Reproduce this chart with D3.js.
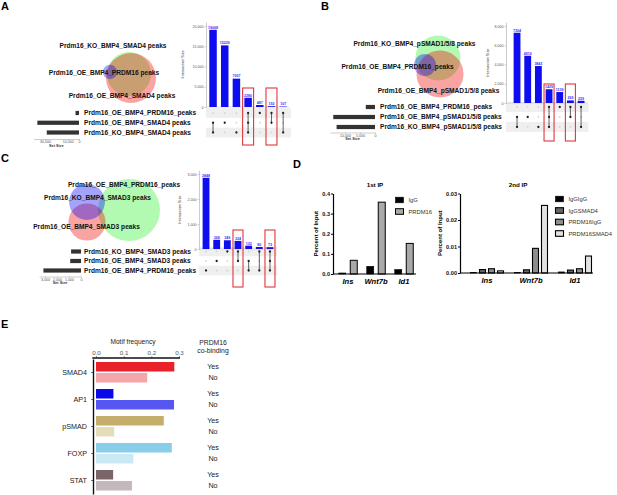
<!DOCTYPE html>
<html>
<head>
<meta charset="utf-8">
<script src="https://cdn.jsdelivr.net/npm/d3@7"></script>
<style>
  body { margin: 0; background: #fff; }
  svg { display: block; font-family: 'Liberation Sans', Arial, Helvetica, sans-serif; }
</style>
</head>
<body>
<svg id="fig" width="617" height="495"></svg>
<script>
// ---------- panel A : SMAD4 ----------
const upsetASets = ['Prdm16_OE_BMP4_PRDM16_peaks', 'Prdm16_OE_BMP4_SMAD4 peaks', 'Prdm16_KO_BMP4_SMAD4 peaks']
const upsetASetSizes = [3066, 36760, 28462]
const upsetAValues = [19068, 15220, 7007, 2280, 487, 192, 107]
const upsetAMembers = [[1, 2], [1], [2], [0, 1, 2], [0], [0, 1], [0, 2]]
const upsetAHighlight = [3, 5]
const upsetAYTicks = [0, 5000, 10000, 15000, 20000]
const upsetASetTicks = [30000, 10000, 0]
const vennALabels = ['Prdm16_KO_BMP4_SMAD4 peaks', 'Prdm16_OE_BMP4_PRDM16 peaks', 'Prdm16_OE_BMP4_SMAD4 peaks']

// ---------- panel B : pSMAD1/5/8 ----------
const upsetBSets = ['Prdm16_OE_BMP4_PRDM16_peaks', 'Prdm16_OE_BMP4_pSMAD1/5/8 peaks', 'Prdm16_KO_BMP4_pSMAD1/5/8 peaks']
const upsetBSetSizes = [3066, 13912, 12805]
const upsetBValues = [7304, 4910, 3843, 1429, 1139, 269, 229]
const upsetBMembers = [[1, 2], [1], [2], [0, 1, 2], [0], [0, 1], [0, 2]]
const upsetBHighlight = [3, 5]
const upsetBYTicks = [0, 2000, 4000, 6000, 8000]
const upsetBSetTicks = [10000, 5000, 0]
const vennBLabels = ['Prdm16_KO_BMP4_pSMAD1/5/8 peaks', 'Prdm16_OE_BMP4_PRDM16_peaks', 'Prdm16_OE_BMP4_pSMAD1/5/8 peaks']

// ---------- panel C : SMAD3 ----------
const upsetCSets = ['Prdm16_KO_BMP4_SMAD3 peaks', 'Prdm16_OE_BMP4_SMAD3 peaks', 'Prdm16_OE_BMP4_PRDM16_peaks']
const upsetCSetSizes = [826, 897, 3133]
const upsetCValues = [2848, 368, 349, 324, 132, 80, 73]
const upsetCMembers = [[2], [1], [0], [0, 1], [1, 2], [0, 2], [0, 1, 2]]
const upsetCHighlight = [3, 6]
const upsetCYTicks = [0, 1000, 2000, 3000]
const upsetCSetTicks = [3000, 2000, 1000, 0]
const vennCLabels = ['Prdm16_OE_BMP4_PRDM16_peaks', 'Prdm16_KO_BMP4_SMAD3 peaks', 'Prdm16_OE_BMP4_SMAD3 peaks']

// ---------- panel D : ChIP / re-ChIP ----------
const chipGenes = ['Ins', 'Wnt7b', 'Id1']
const firstIpSeries = ['IgG', 'PRDM16']
const firstIpIgG = [0.005, 0.038, 0.022]
const firstIpPRDM16 = [0.068, 0.357, 0.152]
const firstIpTicks = [0, 0.1, 0.2, 0.3, 0.4]
const secondIpSeries = ['IgGIgG', 'IgGSMAD4', 'PRDM16IgG', 'PRDM16SMAD4']
const secondIpIgGIgG = [0.0002, 0.0002, 0.0004]
const secondIpIgGSMAD4 = [0.0013, 0.0012, 0.0011]
const secondIpPRDM16IgG = [0.0016, 0.0093, 0.0016]
const secondIpPRDM16SMAD4 = [0.0008, 0.0255, 0.0064]
const secondIpTicks = [0, 0.01, 0.02, 0.03]

// ---------- panel E : motif frequency ----------
const motifCategories = ['SMAD4', 'AP1', 'pSMAD', 'FOXP', 'STAT']
const motifYes = [0.283, 0.063, 0.245, 0.274, 0.062]
const motifNo = [0.185, 0.282, 0.066, 0.135, 0.13]
const motifYesColors = ['#e8212b', '#0a0ae8', '#c5ad6b', '#88cdea', '#7b6569']
const motifNoColors = ['#f5a6aa', '#5656f2', '#e6dcba', '#cbe8f5', '#c4b8bc']
const motifTicks = [0, 0.1, 0.2, 0.3]

const VENN_GREEN = 'rgba(0, 235, 0, 0.3)'
const VENN_RED = 'rgba(240, 0, 0, 0.36)'
const VENN_BLUE = 'rgba(0, 0, 245, 0.36)'

const svg = d3.select('#fig')

// panel letters
svg.selectAll('text.panel-letter')
  .data([['A', 1, 9.5], ['B', 321, 9.5], ['C', 1, 162], ['D', 293, 168], ['E', 1, 328]])
  .join('text')
  .attr('class', 'panel-letter')
  .attr('x', d => d[1]).attr('y', d => d[2])
  .attr('font-size', 11).attr('font-weight', 'bold')
  .text(d => d[0])

function drawVenn (root, circles, labels) {
  const g = root.append('g')
  g.selectAll('circle')
    .data(circles)
    .join('circle')
    .attr('cx', d => d.cx).attr('cy', d => d.cy).attr('r', d => d.r)
    .attr('fill', d => d.color)
  g.selectAll('text')
    .data(labels)
    .join('text')
    .attr('x', d => d.x).attr('y', d => d.y)
    .attr('text-anchor', 'middle')
    .attr('font-size', 6.6).attr('font-weight', 'bold').attr('fill', '#111')
    .text(d => d.text)
}

function drawUpset (root, data, layout) {
  const g = root.append('g')
  const n = data.values.length
  const x = d3.scalePoint().domain(d3.range(n)).range(layout.xRange).padding(0.5)
  const step = x.step()
  const y = d3.scaleLinear().domain([0, layout.yMax]).range([layout.baseY, layout.topY])
  const row = d3.scalePoint().domain(d3.range(data.sets.length)).range(layout.rowRange)
  const rowStep = row.step()
  const setX = d3.scaleLinear().domain([0, layout.setMax])
    .range([layout.setRight, layout.setRight - layout.setWidth])

  // matrix stripes
  g.selectAll('rect.stripe')
    .data([0, 2])
    .join('rect')
    .attr('class', 'stripe')
    .attr('x', layout.axisX)
    .attr('width', layout.xRange[1] + 2 - layout.axisX)
    .attr('y', i => row(i) - rowStep / 2)
    .attr('height', rowStep)
    .attr('fill', '#efefef')

  // intersection axis
  const yAxis = g.append('g')
    .attr('transform', `translate(${layout.axisX},0)`)
    .call(d3.axisLeft(y).tickValues(data.yTicks).tickSize(1.5).tickSizeOuter(0).tickPadding(1))
  yAxis.select('.domain').attr('stroke', '#999').attr('stroke-width', 0.5)
  yAxis.selectAll('.tick line').attr('stroke', '#999').attr('stroke-width', 0.5)
  yAxis.selectAll('.tick text').attr('font-size', 3.6).attr('fill', '#555').attr('font-family', null)

  g.append('line')
    .attr('x1', layout.axisX).attr('x2', layout.xRange[1])
    .attr('y1', layout.baseY).attr('y2', layout.baseY)
    .attr('stroke', '#bbb').attr('stroke-width', 0.5)

  g.append('text')
    .attr('transform', `translate(${layout.axisX - layout.titleOffset},${(layout.baseY + layout.topY) / 2}) rotate(-90)`)
    .attr('text-anchor', 'middle')
    .attr('font-size', 3.8).attr('fill', '#333')
    .text('Intersection Size')

  // bars
  const bw = step * 0.64
  g.selectAll('rect.bar')
    .data(data.values)
    .join('rect')
    .attr('class', 'bar')
    .attr('x', (d, i) => x(i) - bw / 2)
    .attr('width', bw)
    .attr('y', d => y(d))
    .attr('height', d => y(0) - y(d))
    .attr('fill', '#0d0df0')

  g.selectAll('text.value')
    .data(data.values)
    .join('text')
    .attr('class', 'value')
    .attr('x', (d, i) => x(i))
    .attr('y', d => y(d) - 1.2)
    .attr('text-anchor', 'middle')
    .attr('font-size', 3.6).attr('font-weight', 'bold').attr('fill', '#3333ff')
    .text(d => d)

  // matrix dots
  const cells = []
  data.members.forEach((m, i) => {
    data.sets.forEach((s, r) => cells.push({ col: i, row: r, on: m.includes(r) }))
  })
  g.selectAll('circle.dot')
    .data(cells)
    .join('circle')
    .attr('class', 'dot')
    .attr('cx', d => x(d.col))
    .attr('cy', d => row(d.row))
    .attr('r', d => d.on ? 1.15 : 0.9)
    .attr('fill', d => d.on ? '#222' : '#d6d6d6')

  g.selectAll('line.link')
    .data(data.members.map((m, i) => ({ col: i, lo: d3.min(m), hi: d3.max(m) })).filter(d => d.hi > d.lo))
    .join('line')
    .attr('class', 'link')
    .attr('x1', d => x(d.col)).attr('x2', d => x(d.col))
    .attr('y1', d => row(d.lo)).attr('y2', d => row(d.hi))
    .attr('stroke', '#222').attr('stroke-width', 0.7)

  // highlight boxes
  g.selectAll('rect.hl')
    .data(data.highlight)
    .join('rect')
    .attr('class', 'hl')
    .attr('x', i => x(i) - step * 0.47)
    .attr('width', step * 0.94)
    .attr('y', layout.baseY - 19)
    .attr('height', 57)
    .attr('fill', 'none')
    .attr('stroke', '#e0363c').attr('stroke-width', 1.1)

  // set labels
  g.selectAll('text.set')
    .data(data.sets)
    .join('text')
    .attr('class', 'set')
    .attr('x', layout.labelX)
    .attr('y', (d, i) => row(i) + 2.3)
    .attr('font-size', 6.6).attr('font-weight', 'bold').attr('fill', '#111')
    .text(d => d)

  // set size bars
  g.selectAll('rect.setbar')
    .data(data.setSizes)
    .join('rect')
    .attr('class', 'setbar')
    .attr('x', d => setX(d))
    .attr('width', d => setX(0) - setX(d))
    .attr('y', (d, i) => row(i) - 2.1)
    .attr('height', 4.2)
    .attr('fill', '#333')

  const sAxis = g.append('g')
    .attr('transform', `translate(0,${layout.setAxisY})`)
    .call(d3.axisBottom(setX).tickValues(data.setTicks).tickSize(1.2).tickSizeOuter(0).tickPadding(0.5))
  sAxis.select('.domain').attr('stroke', '#999').attr('stroke-width', 0.5)
  sAxis.selectAll('.tick line').attr('stroke', '#999').attr('stroke-width', 0.5)
  sAxis.selectAll('.tick text').attr('font-size', 3.6).attr('fill', '#555').attr('font-family', null)
  g.append('text')
    .attr('x', (setX.range()[0] + setX.range()[1]) / 2)
    .attr('y', layout.setAxisY + 7.6)
    .attr('text-anchor', 'middle')
    .attr('font-size', 3.8).attr('font-weight', 'bold').attr('fill', '#333')
    .text('Set Size')
}

// ---------- panel A ----------
const rA = d3.scaleSqrt().domain([0, d3.max(upsetASetSizes)]).range([0, 25])
drawVenn(svg, [
  { cx: 129, cy: 74, r: rA(upsetASetSizes[2]), color: VENN_GREEN },
  { cx: 131, cy: 78, r: rA(upsetASetSizes[1]), color: VENN_RED },
  { cx: 110, cy: 72, r: rA(upsetASetSizes[0]), color: VENN_BLUE }
], [
  { x: 113, y: 47.5, text: vennALabels[0] },
  { x: 104, y: 74.5, text: vennALabels[1] },
  { x: 122, y: 97.5, text: vennALabels[2] }
])
drawUpset(svg, {
  sets: upsetASets, setSizes: upsetASetSizes, values: upsetAValues, members: upsetAMembers,
  highlight: upsetAHighlight, yTicks: upsetAYTicks, setTicks: upsetASetTicks
}, {
  xRange: [207.2, 289], axisX: 206, yMax: 21000, baseY: 107, topY: 22,
  rowRange: [113, 132.5], labelX: 84, titleOffset: 22,
  setMax: 40000, setRight: 79, setWidth: 45.3, setAxisY: 139
})

// ---------- panel B ----------
const rB = d3.scaleSqrt().domain([0, d3.max(upsetBSetSizes)]).range([0, 23.5])
drawVenn(svg, [
  { cx: 438, cy: 58, r: rB(upsetBSetSizes[2]), color: VENN_GREEN },
  { cx: 440, cy: 74, r: rB(upsetBSetSizes[1]), color: VENN_RED },
  { cx: 425, cy: 65, r: rB(upsetBSetSizes[0]), color: VENN_BLUE }
], [
  { x: 414.5, y: 45.5, text: vennBLabels[0] },
  { x: 397.5, y: 68.5, text: vennBLabels[1] },
  { x: 438.5, y: 92.5, text: vennBLabels[2] }
])
drawUpset(svg, {
  sets: upsetBSets, setSizes: upsetBSetSizes, values: upsetBValues, members: upsetBMembers,
  highlight: upsetBHighlight, yTicks: upsetBYTicks, setTicks: upsetBSetTicks
}, {
  xRange: [511.7, 586.4], axisX: 506, yMax: 8400, baseY: 103, topY: 22.2,
  rowRange: [107, 127], labelX: 380, titleOffset: 17,
  setMax: 15000, setRight: 375, setWidth: 45, setAxisY: 132.5
})

// ---------- panel C ----------
const rC = d3.scaleSqrt().domain([0, d3.max(upsetCSetSizes)]).range([0, 31])
drawVenn(svg, [
  { cx: 129, cy: 210, r: rC(upsetCSetSizes[2]), color: VENN_GREEN },
  { cx: 87, cy: 222, r: rC(upsetCSetSizes[1]) + 2, color: VENN_RED },
  { cx: 87, cy: 202, r: rC(upsetCSetSizes[0]) + 2, color: VENN_BLUE }
], [
  { x: 124, y: 186.5, text: vennCLabels[0] },
  { x: 97.5, y: 199.5, text: vennCLabels[1] },
  { x: 86.5, y: 228.5, text: vennCLabels[2] }
])
drawUpset(svg, {
  sets: upsetCSets, setSizes: upsetCSetSizes, values: upsetCValues, members: upsetCMembers,
  highlight: upsetCHighlight, yTicks: upsetCYTicks, setTicks: upsetCSetTicks
}, {
  xRange: [200.7, 275.3], axisX: 199, yMax: 3150, baseY: 249, topY: 170.25,
  rowRange: [251.5, 270.5], labelX: 84, titleOffset: 18,
  setMax: 3500, setRight: 81, setWidth: 42, setAxisY: 276.5
})

// ---------- panel D ----------
function drawChip (root, cfg) {
  const g = root.append('g')
  const x = d3.scaleBand().domain(chipGenes).range(cfg.groupRange)
  const inner = d3.scalePoint().domain(cfg.series.map(s => s.name)).range(cfg.innerRange)
  const y = d3.scaleLinear().domain(cfg.yDomain).range([cfg.baseY, cfg.topY])

  cfg.series.forEach(s => {
    g.selectAll(null)
      .data(s.values)
      .join('rect')
      .attr('x', (d, i) => x(chipGenes[i]) + x.bandwidth() / 2 + inner(s.name) - cfg.barW / 2)
      .attr('width', cfg.barW)
      .attr('y', d => y(d))
      .attr('height', d => Math.max(0.4, y(0) - y(d)))
      .attr('fill', s.fill)
      .attr('stroke', '#000').attr('stroke-width', s.stroke)
  })

  const yAxis = g.append('g')
    .attr('transform', `translate(${cfg.axisX},0)`)
    .call(d3.axisLeft(y).tickValues(cfg.ticks).tickFormat(d3.format(cfg.fmt)).tickSize(2).tickSizeOuter(0).tickPadding(1))
  yAxis.select('.domain').attr('stroke', '#000').attr('stroke-width', 1.2)
  yAxis.selectAll('.tick line').attr('stroke', '#000').attr('stroke-width', 1)
  yAxis.selectAll('.tick text').attr('font-size', 5.6).attr('font-weight', 'bold').attr('fill', '#111').attr('font-family', null)

  g.append('line')
    .attr('x1', cfg.axisX).attr('x2', cfg.axisEnd)
    .attr('y1', cfg.baseY).attr('y2', cfg.baseY)
    .attr('stroke', '#000').attr('stroke-width', 1.2)

  g.selectAll('text.gene')
    .data(chipGenes)
    .join('text')
    .attr('class', 'gene')
    .attr('x', d => x(d) + x.bandwidth() / 2)
    .attr('y', cfg.baseY + 10)
    .attr('text-anchor', 'middle')
    .attr('font-size', 7.6).attr('font-weight', 'bold').attr('font-style', 'italic')
    .text(d => d)

  g.append('text')
    .attr('transform', `translate(${cfg.axisX - cfg.titleOffset},${(cfg.baseY + cfg.topY) / 2}) rotate(-90)`)
    .attr('text-anchor', 'middle')
    .attr('font-size', 6).attr('font-weight', 'bold')
    .text('Percent of Input')

  g.append('text')
    .attr('x', cfg.titleX).attr('y', 187)
    .attr('text-anchor', 'middle')
    .attr('font-size', 6.2).attr('font-weight', 'bold')
    .text(cfg.title)

  const leg = g.selectAll('g.leg')
    .data(cfg.series)
    .join('g')
    .attr('transform', (d, i) => `translate(${cfg.legX},${cfg.legY + i * cfg.legStep})`)
  leg.append('rect')
    .attr('x', 0.5).attr('y', -2.8).attr('width', 8).attr('height', 5.6)
    .attr('fill', d => d.fill).attr('stroke', '#000').attr('stroke-width', d => d.stroke)
  leg.append('text')
    .attr('x', 13.5).attr('y', 2)
    .attr('font-size', 5.8).attr('fill', '#333')
    .text(d => d.name)
}

drawChip(svg, {
  title: '1st IP', titleX: 375,
  series: [
    { name: firstIpSeries[0], values: firstIpIgG, fill: '#000', stroke: 0.6 },
    { name: firstIpSeries[1], values: firstIpPRDM16, fill: '#a9a9a9', stroke: 1 }
  ],
  groupRange: [334, 418], innerRange: [-5.75, 5.75], barW: 7,
  yDomain: [0, 0.4], baseY: 274, topY: 193.5, ticks: firstIpTicks, fmt: '.1f',
  axisX: 333, axisEnd: 416, titleOffset: 15,
  legX: 395, legY: 200, legStep: 11.5
})

drawChip(svg, {
  title: '2nd IP', titleX: 518,
  series: [
    { name: secondIpSeries[0], values: secondIpIgGIgG, fill: '#000', stroke: 0.6 },
    { name: secondIpSeries[1], values: secondIpIgGSMAD4, fill: '#666', stroke: 1.1 },
    { name: secondIpSeries[2], values: secondIpPRDM16IgG, fill: '#8e8e8e', stroke: 1.1 },
    { name: secondIpSeries[3], values: secondIpPRDM16SMAD4, fill: '#e2e2e2', stroke: 1.1 }
  ],
  groupRange: [465, 597], innerRange: [-13.5, 13.5], barW: 6,
  yDomain: [0, 0.03], baseY: 273, topY: 193.5, ticks: secondIpTicks, fmt: '.2f',
  axisX: 460, axisEnd: 593, titleOffset: 18,
  legX: 555, legY: 199, legStep: 11.5
})

// ---------- panel E ----------
function drawMotif (root) {
  const g = root.append('g')
  const x = d3.scaleLinear().domain([0, 0.3]).range([96, 179])
  const y = d3.scaleBand().domain(motifCategories).range([359, 494])
  const inner = d3.scaleBand().domain(['Yes', 'No']).range([3, 23.5]).paddingInner(0.136)
  const rows = []
  motifCategories.forEach((c, i) => {
    rows.push({ cat: c, key: 'Yes', v: motifYes[i], color: motifYesColors[i] })
    rows.push({ cat: c, key: 'No', v: motifNo[i], color: motifNoColors[i] })
  })

  g.selectAll('rect.motif')
    .data(rows)
    .join('rect')
    .attr('class', 'motif')
    .attr('x', x(0))
    .attr('width', d => x(d.v) - x(0))
    .attr('y', d => y(d.cat) + inner(d.key))
    .attr('height', inner.bandwidth())
    .attr('fill', d => d.color)

  g.selectAll('text.yn')
    .data(rows)
    .join('text')
    .attr('class', 'yn')
    .attr('x', 213)
    .attr('y', d => y(d.cat) + inner(d.key) + inner.bandwidth() / 2 + 2.6)
    .attr('text-anchor', 'middle')
    .attr('font-size', 7.2).attr('fill', '#222')
    .text(d => d.key)

  const xAxis = g.append('g')
    .attr('transform', 'translate(0,358)')
    .call(d3.axisTop(x).tickValues(motifTicks).tickFormat(d3.format('.1f')).tickSize(2).tickSizeOuter(0).tickPadding(1))
  xAxis.select('.domain').remove()
  xAxis.selectAll('.tick line').attr('stroke', '#555').attr('stroke-width', 0.6)
  xAxis.selectAll('.tick text').attr('font-size', 6.2).attr('fill', '#555').attr('font-family', null)
  g.append('line')
    .attr('x1', 92.3).attr('x2', 180).attr('y1', 358).attr('y2', 358)
    .attr('stroke', '#111').attr('stroke-width', 1.3)

  const yAxis = g.append('g')
    .attr('transform', 'translate(93,0)')
    .call(d3.axisLeft(y).tickSize(2).tickSizeOuter(0).tickPadding(4))
  yAxis.select('.domain').attr('stroke', '#111').attr('stroke-width', 1.4)
  yAxis.selectAll('.tick line').attr('stroke', '#333').attr('stroke-width', 0.7)
  yAxis.selectAll('.tick text').attr('font-size', 7.2).attr('fill', '#222').attr('font-family', null)

  g.append('text')
    .attr('x', 133).attr('y', 344)
    .attr('text-anchor', 'middle').attr('font-size', 6.6).attr('fill', '#222')
    .text('Motif frequency')
  g.append('text')
    .attr('x', 213).attr('y', 344.5)
    .attr('text-anchor', 'middle').attr('font-size', 6.8).attr('fill', '#222')
    .text('PRDM16')
  g.append('text')
    .attr('x', 213).attr('y', 353)
    .attr('text-anchor', 'middle').attr('font-size', 6.8).attr('fill', '#222')
    .text('co-binding')
}

drawMotif(svg)
</script>
</body>
</html>
